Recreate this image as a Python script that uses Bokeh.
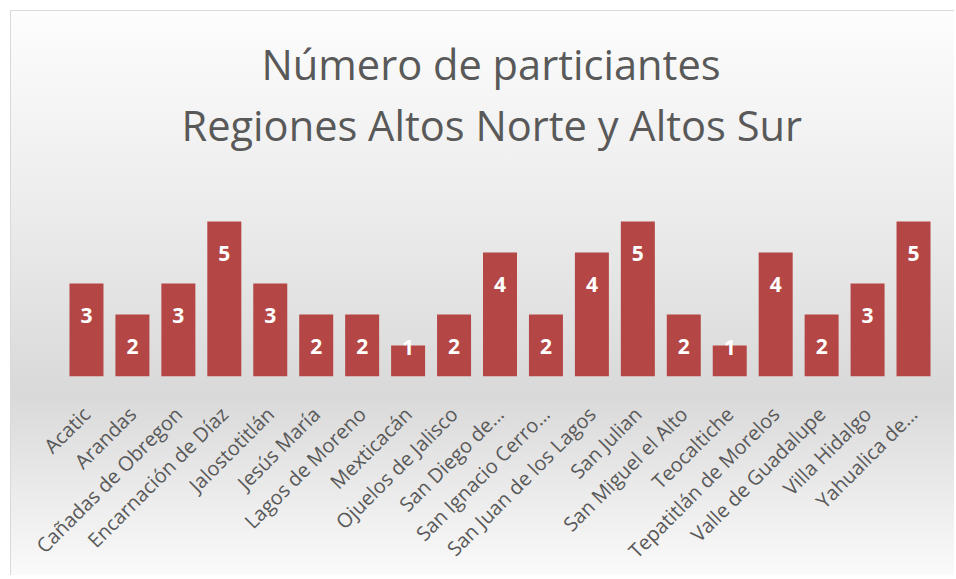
from bokeh.plotting import figure
from bokeh.models import ColumnDataSource, FactorRange, Range1d, Title
from bokeh.core.properties import value
from bokeh.embed import file_html
from bokeh.resources import INLINE

municipios = [
    "Acatic", "Arandas", "Cañadas de Obregon", "Encarnación de Díaz",
    "Jalostotitlán", "Jesús María", "Lagos de Moreno", "Mexticacán",
    "Ojuelos de Jalisco", "San Diego de…", "San Ignacio Cerro…",
    "San Juan de los Lagos", "San Julian", "San Miguel el Alto",
    "Teocaltiche", "Tepatitlán de Morelos", "Valle de Guadalupe",
    "Villa Hidalgo", "Yahualica de…",
]
participantes = [3, 2, 3, 5, 3, 2, 2, 1, 2, 4, 2, 4, 5, 2, 1, 4, 2, 3, 5]

title_line1 = "Número de particiantes"
title_line2 = "Regiones Altos Norte y Altos Sur"

FONT = "Open Sans"
GREY = "#595959"

label_y = [max(v - 1.04, 0.95) for v in participantes]
source = ColumnDataSource(dict(
    cat=municipios,
    val=participantes,
    ly=label_y,
    txt=[str(v) for v in participantes],
))

p = figure(
    x_range=FactorRange(factors=municipios),
    y_range=Range1d(0, 6),
    width=944, height=565,
    output_backend="svg", toolbar_location=None,
    min_border_left=52, min_border_right=19,
    min_border_top=179, min_border_bottom=196,
)
p.title = None
p.background_fill_color = None
p.border_fill_color = None
p.outline_line_color = None
p.styles = {
    "margin-left": "10px",
    "margin-top": "10px",
    "background": "linear-gradient(to bottom, #fdfdfd 0%, #ececec 35%, #d9d9d9 68%, #fafafa 100%)",
    "border-left": "1px solid #d9d9d9",
    "border-top": "1px solid #d9d9d9",
}

t2 = Title(text=title_line2, align="left", text_font=FONT, text_font_size="41.6px",
           text_font_style="normal", text_color=GREY, offset=118, standoff=76)
t1 = Title(text=title_line1, align="left", text_font=FONT, text_font_size="41.6px",
           text_font_style="normal", text_color=GREY, offset=198, standoff=-70)
p.add_layout(t2, "above")
p.add_layout(t1, "above")

p.vbar(x="cat", top="val", width=0.74, source=source,
       fill_color="#b44745", line_color=None)

p.text(x="cat", y="ly", text="txt", source=source,
       text_align="center", text_baseline="middle",
       text_color="white", text_font=value(FONT), text_font_style="bold",
       text_font_size="21px")

p.yaxis.visible = False
p.xgrid.grid_line_color = None
p.ygrid.grid_line_color = None
p.xaxis.axis_line_color = None
p.xaxis.major_tick_line_color = None
p.xaxis.minor_tick_line_color = None
p.xaxis.major_label_orientation = 0.785398
p.xaxis.major_label_text_font = FONT
p.xaxis.major_label_text_font_size = "20px"
p.xaxis.major_label_text_color = GREY
p.xaxis.major_label_standoff = 28

open("out.html", "w").write(file_html(p, INLINE))
